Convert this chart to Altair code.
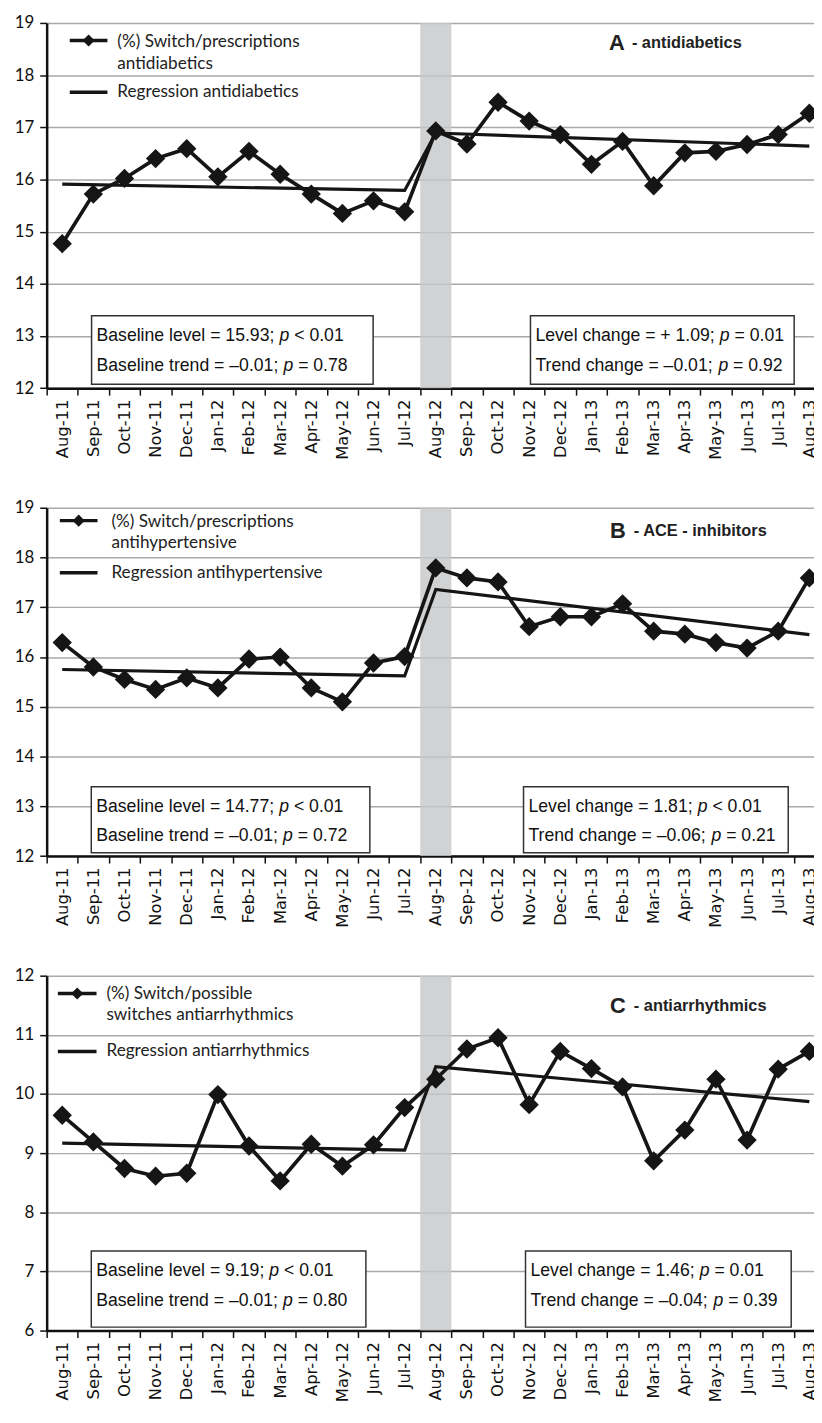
import altair as alt
import pandas as pd

# ---------------- data ----------------
months = ["Aug-11", "Sep-11", "Oct-11", "Nov-11", "Dec-11", "Jan-12", "Feb-12", "Mar-12",
          "Apr-12", "May-12", "Jun-12", "Jul-12", "Aug-12", "Sep-12", "Oct-12", "Nov-12",
          "Dec-12", "Jan-13", "Feb-13", "Mar-13", "Apr-13", "May-13", "Jun-13", "Jul-13", "Aug-13"]

a_values = [14.77, 15.72, 16.02, 16.40, 16.59, 16.05, 16.54, 16.10, 15.72, 15.35, 15.59, 15.38,
            16.93, 16.68, 17.48, 17.12, 16.86, 16.29, 16.73, 15.88, 16.51, 16.54, 16.67, 16.86, 17.27]
b_values = [16.29, 15.80, 15.55, 15.35, 15.58, 15.38, 15.96, 16.00, 15.38, 15.10, 15.88, 16.01,
            17.79, 17.59, 17.51, 16.61, 16.81, 16.81, 17.07, 16.52, 16.46, 16.29, 16.18, 16.52, 17.59]
c_values = [9.64, 9.19, 8.74, 8.61, 8.66, 9.99, 9.12, 8.53, 9.15, 8.78, 9.14, 9.77,
            10.25, 10.76, 10.95, 9.82, 10.72, 10.43, 10.12, 8.87, 9.39, 10.25, 9.22, 10.42, 10.72]

reg_months = ["Aug-11", "Jul-12", "Aug-12", "Aug-13"]
a_reg = [15.91, 15.79, 16.89, 16.64]
b_reg = [15.75, 15.62, 17.36, 16.45]
c_reg = [9.17, 9.05, 10.46, 9.87]

intervention_month = "Aug-12"

a_legend = ["(%) Switch/prescriptions", "antidiabetics"]
b_legend = ["(%) Switch/prescriptions", "antihypertensive"]
c_legend = ["(%) Switch/possible", "switches antiarrhythmics"]
a_reg_label = "Regression antidiabetics"
b_reg_label = "Regression antihypertensive"
c_reg_label = "Regression antiarrhythmics"

a_title = ("A", "- antidiabetics")
b_title = ("B", "- ACE - inhibitors")
c_title = ("C", "- antiarrhythmics")

a_box_left = [("Baseline level = 15.93; ", "p", " < 0.01"), ("Baseline trend = \u20130.01; ", "p", " = 0.78")]
a_box_right = [("Level change = + 1.09; ", "p", " = 0.01"), ("Trend change = \u20130.01; ", "p", " = 0.92")]
b_box_left = [("Baseline level = 14.77; ", "p", " < 0.01"), ("Baseline trend = \u20130.01; ", "p", " = 0.72")]
b_box_right = [("Level change = 1.81; ", "p", " < 0.01"), ("Trend change = \u20130.06; ", "p", " = 0.21")]
c_box_left = [("Baseline level = 9.19; ", "p", " < 0.01"), ("Baseline trend = \u20130.01; ", "p", " = 0.80")]
c_box_right = [("Level change = 1.46; ", "p", " = 0.01"), ("Trend change = \u20130.04; ", "p", " = 0.39")]

# ---------------- layout / style ----------------
NB = len(months)
BAND = 31.4
PW = BAND * NB
INK = "#151515"
BOX_FONT = "Liberation Sans"
BOX_FS = 17.8
LEG_FS = 17.3
SPACING = 120

AW = {' ': 278, 'B': 667, 'L': 556, 'T': 611, 'a': 556, 'c': 500, 'd': 556, 'e': 556, 'g': 556,
      'h': 556, 'i': 222, 'l': 222, 'n': 556, 'p': 556, 'r': 333, 's': 500, 't': 278, 'v': 500,
      '=': 584, '+': 584, '<': 584, ';': 278, '.': 278, '\u2013': 556, '-': 333}


def tw(s, fs):
    return sum(AW.get(ch, 556) for ch in s) * fs / 1000.0


label_expr = "[" + ",".join("'%s'" % m for m in months) + "][datum.value]"

HC = 358.0
PPU_C = HC / 6.0
layouts = {
    "A": dict(height=368.4, sym=(23.3, 61.3), text_x=71.3, ys=(17.7, 19.4, 41.0, 70.0),
              title=(567.3, 590.3, 20.7),
              boxes=[(45.3, 329.3), (488.0, 754.0)], box_y=(295.4, 364.4), lines=(315.7, 345.7)),
    "B": dict(height=351.4, sym=(13.3, 51.3), text_x=65.3, ys=(13.0, 14.5, 36.0, 65.5),
              title=(568.3, 592.3, 24.0),
              boxes=[(45.0, 326.0), (481.0, 748.0)], box_y=(281.5, 348.0), lines=(302.0, 331.5)),
    "C": dict(height=HC, sym=(11.3, 50.3), text_x=60.3, ys=(18.0, 19.0, 39.5, 76.5),
              title=(568.3, 592.3, 31.0),
              boxes=[(45.0, 322.0), (483.0, 751.0)],
              box_y=(5 * PPU_C - 20.5, HC - 3.5), lines=(5 * PPU_C, 5 * PPU_C + 30)),
}


def make_panel(values, reg_vals, ymin, ymax, lay, legend_lines, reg_label, title, box_l, box_r):
    H = lay["height"]
    ppu = H / (ymax - ymin)

    def px2x(p):
        return p / BAND

    def px2y(p):
        return ymax - p / ppu

    xsc = alt.Scale(domain=[0, NB], nice=False, zero=False)
    ysc = alt.Scale(domain=[ymin, ymax], nice=False, zero=False)
    xaxis = alt.Axis(values=list(range(NB)), labelExpr=label_expr, labelOffset=BAND / 2,
                     labelAngle=-90, labelAlign="right", labelBaseline="middle", labelPadding=4,
                     labelFont="DejaVu Sans", labelFontSize=16.5, labelColor="#111",
                     labelFlush=False, labelOverlap=False,
                     tickSize=7, tickColor="#111", tickWidth=1.5,
                     domainColor="#111", domainWidth=2.5, grid=False, title=None)
    yaxis = alt.Axis(values=list(range(ymin, ymax + 1)), labelFont="Lato", labelFontSize=17,
                     labelColor="#111", labelPadding=6, tickSize=7, tickColor="#111",
                     tickWidth=1.5, domainColor="#111", domainWidth=2.5, grid=True,
                     gridColor="#a9a9a9", gridWidth=1.5, title=None, labelFlush=False)

    def X(f):
        return alt.X(f, type="quantitative", scale=xsc, axis=xaxis)

    def Y(f):
        return alt.Y(f, type="quantitative", scale=ysc, axis=yaxis)

    main = pd.DataFrame({"x": [i + 0.5 for i in range(NB)], "y": values})
    reg = pd.DataFrame({"x": [months.index(m) + 0.5 for m in reg_months], "y": reg_vals})
    k = months.index(intervention_month)
    shade = pd.DataFrame({"x": [k], "x2": [k + 1], "y": [ymin], "y2": [ymax]})

    layers = []
    layers.append(alt.Chart(shade).mark_rect(color="#c6c7c9", opacity=0.8).encode(
        x=X("x"), x2="x2", y=Y("y"), y2="y2"))
    layers.append(alt.Chart(reg).mark_line(color=INK, strokeWidth=3.2).encode(x=X("x"), y=Y("y")))
    layers.append(alt.Chart(main).mark_line(color=INK, strokeWidth=3.7).encode(x=X("x"), y=Y("y")))
    layers.append(alt.Chart(main).mark_point(shape="diamond", filled=True, size=380, color=INK,
                                             opacity=1).encode(x=X("x"), y=Y("y")))

    # boxes
    by0, by1 = lay["box_y"]
    rects = pd.DataFrame({
        "x": [px2x(b[0]) for b in lay["boxes"]], "x2": [px2x(b[1]) for b in lay["boxes"]],
        "y": [px2y(by0)] * 2, "y2": [px2y(by1)] * 2})
    layers.append(alt.Chart(rects).mark_rect(fill="white", stroke="#333", strokeWidth=1.5).encode(
        x=X("x"), x2="x2", y=Y("y"), y2="y2"))

    norm_rows, ital_rows = [], []
    for (bx0, _), lines in zip(lay["boxes"], [box_l, box_r]):
        for (p1, p2, p3), ly in zip(lines, lay["lines"]):
            x0 = bx0 + 5
            w1 = tw(p1, BOX_FS)
            w2 = tw(p2, BOX_FS)
            norm_rows.append({"x": px2x(x0), "y": px2y(ly), "t": p1.strip()})
            ital_rows.append({"x": px2x(x0 + w1), "y": px2y(ly), "t": p2})
            lead = len(p3) - len(p3.lstrip())
            norm_rows.append({"x": px2x(x0 + w1 + w2 + tw(" " * lead, BOX_FS)), "y": px2y(ly),
                              "t": p3.strip()})
    layers.append(alt.Chart(pd.DataFrame(norm_rows)).mark_text(
        align="left", baseline="middle", font=BOX_FONT, fontSize=BOX_FS, color="#111").encode(
        x=X("x"), y=Y("y"), text="t:N"))
    layers.append(alt.Chart(pd.DataFrame(ital_rows)).mark_text(
        align="left", baseline="middle", font=BOX_FONT, fontSize=BOX_FS, fontStyle="italic",
        color="#111").encode(x=X("x"), y=Y("y"), text="t:N"))

    # legend
    s0, s1 = lay["sym"]
    sy, t1y, t2y, ry = lay["ys"]
    sym = pd.DataFrame({"x": [px2x(s0)] * 2, "x2": [px2x(s1)] * 2, "y": [px2y(sy), px2y(ry)]})
    layers.append(alt.Chart(sym).mark_rule(color=INK, strokeWidth=3.5).encode(
        x=X("x"), x2="x2", y=Y("y")))
    dia = pd.DataFrame({"x": [px2x((s0 + s1) / 2)], "y": [px2y(sy)]})
    layers.append(alt.Chart(dia).mark_point(shape="diamond", filled=True, size=150, color=INK,
                                            opacity=1).encode(x=X("x"), y=Y("y")))
    leg = pd.DataFrame({"x": [px2x(lay["text_x"])] * 3,
                        "y": [px2y(t1y), px2y(t2y), px2y(ry)],
                        "t": [legend_lines[0], legend_lines[1], reg_label]})
    layers.append(alt.Chart(leg).mark_text(align="left", baseline="middle", font="Lato",
                                           fontSize=LEG_FS, color="#222").encode(
        x=X("x"), y=Y("y"), text="t:N"))

    # panel title
    tx0, tx1, tyy = lay["title"]
    big = pd.DataFrame({"x": [px2x(tx0)], "y": [px2y(tyy)], "t": [title[0]]})
    small = pd.DataFrame({"x": [px2x(tx1)], "y": [px2y(tyy)], "t": [title[1]]})
    layers.append(alt.Chart(big).mark_text(align="left", baseline="middle", font="Liberation Sans",
                                           fontSize=22, fontWeight="bold", color="#222").encode(
        x=X("x"), y=Y("y"), text="t:N"))
    layers.append(alt.Chart(small).mark_text(align="left", baseline="middle", font="Liberation Sans",
                                             fontSize=16.5, fontWeight="bold", color="#222").encode(
        x=X("x"), y=Y("y"), text="t:N"))

    return alt.layer(*layers).properties(width=PW, height=H)


pA = make_panel(a_values, a_reg, 12, 19, layouts["A"], a_legend, a_reg_label, a_title, a_box_left, a_box_right)
pB = make_panel(b_values, b_reg, 12, 19, layouts["B"], b_legend, b_reg_label, b_title, b_box_left, b_box_right)
pC = make_panel(c_values, c_reg, 6, 12, layouts["C"], c_legend, c_reg_label, c_title, c_box_left, c_box_right)

# negative right padding crops the panels at the window edge, as in the reference
chart = alt.vconcat(pA, pB, pC, spacing=SPACING, bounds="flush").properties(
    padding={"left": 6, "top": 0, "right": -11, "bottom": 0}
).configure_view(strokeWidth=0)

chart.save("out.html", embed_options={"renderer": "svg", "actions": False})
